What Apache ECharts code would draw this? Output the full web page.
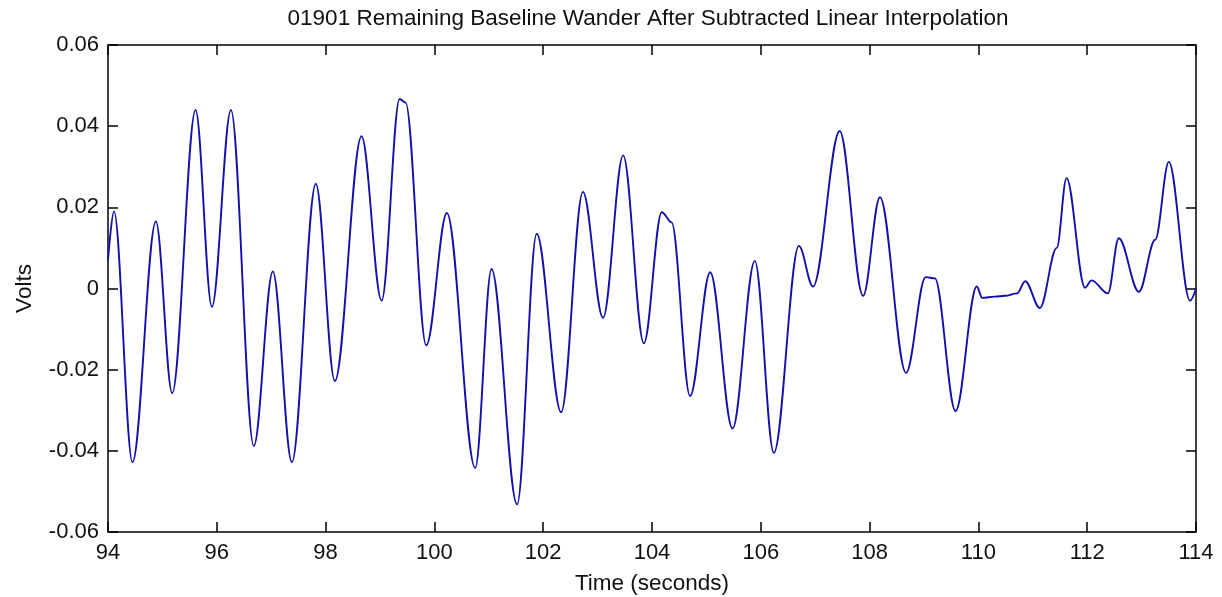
<!DOCTYPE html>
<html>
<head>
<meta charset="utf-8">
<script src="https://cdn.jsdelivr.net/npm/echarts@6/dist/echarts.min.js"></script>
<style>
html,body{margin:0;padding:0;background:#fff;}
#chart{width:1222px;height:597px;}
</style>
</head>
<body>
<div id="chart"></div>
<script>
// Time (seconds) of readings taken at the extrema / bends of the trace
const timeSec = [
  94.00, 94.11, 94.45, 94.88, 95.18, 95.61, 95.91, 96.26, 96.68, 97.03,
  97.38, 97.82, 98.17, 98.66, 99.03, 99.36, 99.47, 99.85, 100.23, 100.75,
  101.05, 101.52, 101.88, 102.33, 102.73, 103.10, 103.47, 103.85, 104.18, 104.36,
  104.70, 105.07, 105.48, 105.89, 106.24, 106.70, 106.96, 107.45, 107.88, 108.19,
  108.67, 109.03, 109.20, 109.58, 109.97, 110.07, 110.30, 110.49, 110.71, 110.86,
  111.13, 111.44, 111.62, 111.96, 112.08, 112.38, 112.58, 112.95, 113.25, 113.50,
  113.89, 114.00
];
// Volts at those times
const volts = [
  0.0070, 0.0190, -0.0428, 0.0165, -0.0258, 0.0440, -0.0045, 0.0440, -0.0388, 0.0042,
  -0.0428, 0.0258, -0.0228, 0.0375, -0.0030, 0.0467, 0.0458, -0.0140, 0.0186, -0.0442,
  0.0048, -0.0532, 0.0135, -0.0305, 0.0238, -0.0072, 0.0328, -0.0135, 0.0188, 0.0163,
  -0.0265, 0.0040, -0.0345, 0.0068, -0.0405, 0.0105, 0.0005, 0.0388, -0.0018, 0.0225,
  -0.0208, 0.0028, 0.0025, -0.0302, 0.0005, -0.0023, -0.0020, -0.0018, -0.0012, 0.0018,
  -0.0048, 0.0100, 0.0272, 0.0002, 0.0020, -0.0012, 0.0124, -0.0008, 0.0120, 0.0312,
  -0.0030, 0.0000
];
const titleText = '01901 Remaining Baseline Wander After Subtracted Linear Interpolation';
const xName = 'Time (seconds)';
const yName = 'Volts';
const xTicks = [94, 96, 98, 100, 102, 104, 106, 108, 110, 112, 114];
const yTicks = [-0.06, -0.04, -0.02, 0, 0.02, 0.04, 0.06];

const FONT = '"Liberation Sans", Arial, sans-serif';
const seriesData = timeSec.map((t, i) => [t, volts[i]]);

const axisLine = {show: true, onZero: false, lineStyle: {color: '#000', width: 1.5}};
const axisTick = {show: true, inside: true, length: 10, lineStyle: {color: '#000', width: 1.5}};

const chart = echarts.init(document.getElementById('chart'), null, {renderer: 'canvas'});
chart.setOption({
  backgroundColor: '#fff',
  animation: false,
  grid: {left: 108, right: 26, top: 45, bottom: 65, containLabel: false, outerBoundsMode: 'none'},
  graphic: [{
    type: 'text', x: 648, y: 19,
    style: {text: titleText, font: '22.5px ' + FONT, fill: '#111', align: 'center', verticalAlign: 'middle'}
  }],
  xAxis: [{
    type: 'value', position: 'bottom',
    min: xTicks[0], max: xTicks[xTicks.length - 1], interval: xTicks[1] - xTicks[0],
    axisLine, axisTick, splitLine: {show: false},
    axisLabel: {color: '#111', fontFamily: FONT, fontSize: 22, margin: 10,
      formatter: v => String(Math.round(v))},
    name: xName, nameLocation: 'middle', nameGap: 40,
    nameTextStyle: {color: '#111', fontFamily: FONT, fontSize: 22.5}
  }, {
    type: 'value', position: 'top',
    min: xTicks[0], max: xTicks[xTicks.length - 1], interval: xTicks[1] - xTicks[0],
    axisLine, axisTick, splitLine: {show: false}, axisLabel: {show: false}
  }],
  yAxis: [{
    type: 'value', position: 'left',
    min: yTicks[0], max: yTicks[yTicks.length - 1], interval: 0.02,
    axisLine, axisTick, splitLine: {show: false},
    axisLabel: {color: '#111', fontFamily: FONT, fontSize: 22, margin: 9,
      formatter: v => Math.abs(v) < 1e-9 ? '0' : v.toFixed(2)},
    name: yName, nameLocation: 'middle', nameGap: 72, nameRotate: 90,
    nameTextStyle: {color: '#111', fontFamily: FONT, fontSize: 22.5}
  }, {
    type: 'value', position: 'right',
    min: yTicks[0], max: yTicks[yTicks.length - 1], interval: 0.02,
    axisLine, axisTick, splitLine: {show: false}, axisLabel: {show: false}
  }],
  series: [{
    type: 'line',
    xAxisIndex: 0, yAxisIndex: 0,
    data: seriesData,
    showSymbol: false,
    smooth: 0.35,
    smoothMonotone: 'x',
    lineStyle: {color: '#1212aa', width: 1.9},
    clip: true
  }]
});
</script>
</body>
</html>
